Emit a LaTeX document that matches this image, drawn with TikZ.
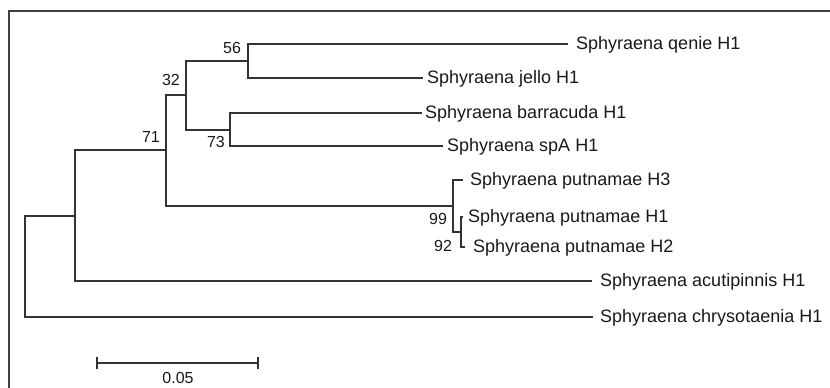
\documentclass[tikz,border=0pt]{standalone}
\usepackage{fontspec}
\setmainfont{Liberation Sans}
\begin{document}
\begin{tikzpicture}[x=1pt,y=-1pt,
  branch/.style={draw=black!80, line width=2pt},
  tiplabel/.style={anchor=base west, inner sep=0pt, font=\fontsize{18}{20}\selectfont, text=black!90},
  boot/.style={inner sep=0pt, font=\fontsize{16}{18}\selectfont, text=black!90},
  frameline/.style={draw=black!75, line width=1.5pt}]
\useasboundingbox (0,0) rectangle (830,388);
\draw[frameline] (9,388) -- (9,11) -- (830,11);
% internal nodes
\coordinate (R) at (25,267);
\coordinate (A) at (75,215.5);
\coordinate (B) at (166,150);
\coordinate (C) at (186,95);
\coordinate (D) at (248,61);
\coordinate (E) at (230,129.5);
\coordinate (P) at (453,206);
\coordinate (Q) at (461,232);
% tips
\coordinate (tq) at (568,44);
\coordinate (tj) at (423,78);
\coordinate (tb) at (422,113);
\coordinate (ts) at (443,146);
\coordinate (t3) at (463,180);
\coordinate (t1) at (463,217);
\coordinate (t2) at (465,247);
\coordinate (ta) at (592,281);
\coordinate (tc) at (593,317);
% branches
\draw[branch] (R) |- (A);
\draw[branch] (R) |- (tc);
\draw[branch] (A) |- (B);
\draw[branch] (A) |- (ta);
\draw[branch] (B) |- (C);
\draw[branch] (B) |- (P);
\draw[branch] (C) |- (D);
\draw[branch] (C) |- (E);
\draw[branch] (D) |- (tq);
\draw[branch] (D) |- (tj);
\draw[branch] (E) |- (tb);
\draw[branch] (E) |- (ts);
\draw[branch] (P) |- (t3);
\draw[branch] (P) |- (Q);
\draw[branch] (Q) |- (t1);
\draw[branch] (Q) |- (t2);
% tip labels
\node[tiplabel] (lq) at (576,49) {Sphyraena qenie H1};
\node[tiplabel] (lj) at (427,83) {Sphyraena jello H1};
\node[tiplabel] (lb) at (425,118) {Sphyraena barracuda H1};
\node[tiplabel] (ls) at (447,151) {Sphyraena spA H1};
\node[tiplabel] (l3) at (470,185) {Sphyraena putnamae H3};
\node[tiplabel] (l1) at (468,222) {Sphyraena putnamae H1};
\node[tiplabel] (l2) at (473,252) {Sphyraena putnamae H2};
\node[tiplabel] (la) at (600,286) {Sphyraena acutipinnis H1};
\node[tiplabel] (lc) at (600,322) {Sphyraena chrysotaenia H1};
% bootstrap values
\node[boot] (b56) at (232,48) {56};
\node[boot] (b32) at (171,80) {32};
\node[boot] (b71) at (151,137) {71};
\node[boot] (b73) at (216,142) {73};
\node[boot] (b99) at (438,219) {99};
\node[boot] (b92) at (443,246) {92};
% scale bar
\coordinate (s1) at (97,363);
\coordinate (s2) at (258,363);
\draw[branch] (s1) -- (s2);
\draw[branch] ([yshift=-6pt]s1) -- ([yshift=6pt]s1);
\draw[branch] ([yshift=-6pt]s2) -- ([yshift=6pt]s2);
\node[boot] (sl) at (178,378) {0.05};
\end{tikzpicture}
\end{document}
